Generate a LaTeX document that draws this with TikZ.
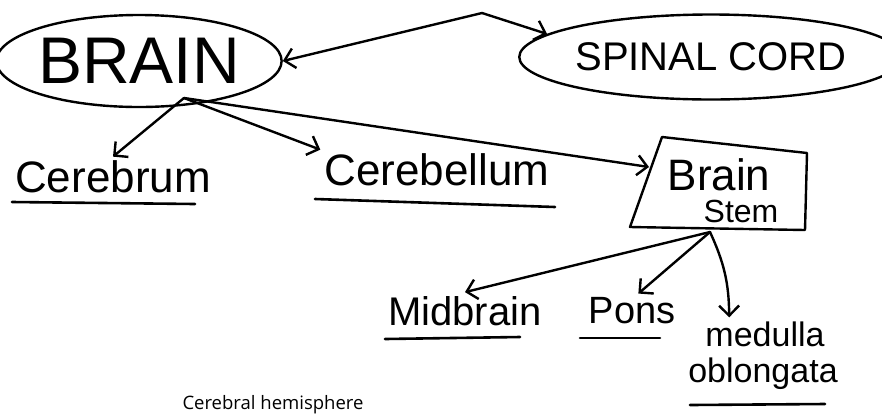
\documentclass[tikz,border=0pt]{standalone}
\usepackage{fontspec}
\setmainfont{Liberation Sans}
\newfontfamily\capfont{Open Sans}
\usetikzlibrary{arrows.meta,shapes.geometric,calc}
\tikzset{
  ink/.style={line width=2.4pt, line cap=round, line join=round},
  arr/.style={ink, -{Straight Barb[length=10pt,width=20pt]}},
  oval/.style={draw, ellipse, ink, inner sep=0pt},
  lbl/.style={inner sep=4pt, text=black},
  uline/.style={line width=2.6pt, line cap=round},
}
\newcommand{\fs}[1]{\fontsize{#1}{#1}\selectfont}
\begin{document}
\begin{tikzpicture}[x=1pt,y=-1pt]
\useasboundingbox (0,0) rectangle (882,416);
% main ovals
\node[oval, minimum width=252pt, minimum height=92pt] (brain) at (139,61) {\raisebox{-4pt}{\fs{66}BRAIN}};
\node[oval, minimum width=312pt, minimum height=85pt] (spinal) at (711,57) {\fs{40}SPINAL CORD};
% top branch
\coordinate (top) at (482,13);
\draw[arr] (top) -- (brain.east);
\draw[arr] (top) -- (spinal.172);
% brain children
\coordinate (bj) at (184,98);
\node[lbl] (cer) at (113,177) {\fs{44}Cerebrum};
\node[lbl] (cbl) at (437,170) {\fs{44}Cerebellum};
% brain stem box
\coordinate (s1) at (662,137);
\coordinate (s2) at (807,153);
\coordinate (s3) at (805,230);
\coordinate (s4) at (630,227);
\draw[ink] (s1) -- (s2) -- (s3) -- (s4) -- cycle;
\node[lbl] (bsa) at (719,175) {\fs{44}Brain};
\node[lbl] (bsb) at (741,211) {\fs{32}Stem};
\coordinate (bsin) at (649,167);
\coordinate (bsout) at (710,232);
\draw[arr] (bj) -- (cer.north);
\draw[arr] (bj) -- (cbl.north west);
\draw[arr] (bj) -- (bsin);
% stem children
\node[lbl] (mid) at (465,311) {\fs{40}Midbrain};
\node[lbl] (pons) at (632,311) {\fs{38}Pons};
\node[lbl] (med) at (765,334) {\fs{34}medulla};
\node[lbl] (obl) at (763,374) {\fs{34}oblongata};
\draw[arr] (bsout) -- (mid.north);
\draw[arr] (bsout) -- (pons.70);
\draw[arr] (bsout) to[bend left=12] (med.155);
% underlines
\draw[uline] (12,202) -- (195,204);
\draw[uline] (315,199) -- (555,207);
\draw[uline] (385,339) -- (520,337);
\draw[uline] (580,338) -- (660,338);
\draw[uline] (690,405) -- (825,404);
% caption
\node[inner sep=0pt] (cap) at (273,405) {\capfont\fs{18.5}Cerebral hemisphere};
\end{tikzpicture}
\end{document}
